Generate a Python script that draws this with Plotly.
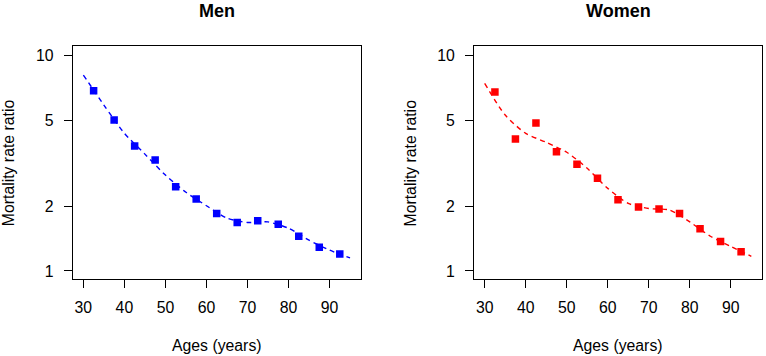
import plotly.graph_objects as go

ages = [32.5, 37.5, 42.5, 47.5, 52.5, 57.5, 62.5, 67.5, 72.5, 77.5, 82.5, 87.5, 92.5]
men_ratio = [6.88, 5.03, 3.81, 3.28, 2.46, 2.16, 1.85, 1.68, 1.71, 1.65, 1.45, 1.29, 1.20]
women_ratio = [6.78, 4.10, 4.87, 3.58, 3.13, 2.70, 2.14, 1.98, 1.94, 1.85, 1.57, 1.37, 1.23]

fit_ages = [30, 35, 40, 45, 50, 55, 60, 65, 70, 75, 80, 85, 90, 95]
men_fit = [8.13, 5.90, 4.36, 3.49, 2.79, 2.32, 2.01, 1.76, 1.68, 1.69, 1.58, 1.39, 1.25, 1.15]
women_fit = [7.44, 5.30, 4.36, 3.96, 3.56, 3.00, 2.42, 2.06, 1.95, 1.92, 1.69, 1.45, 1.30, 1.17]

x_ticks = [30, 40, 50, 60, 70, 80, 90]
y_ticks = [1, 2, 5, 10]
y_tick_labels = ["1", "2", "5", "10"]
titles = ["Men", "Women"]
x_title = "Ages (years)"
y_title = "Mortality rate ratio"

FONT = "Liberation Sans, Arial, sans-serif"
W, H = 766, 356
FS = 15.8

fig = go.Figure()

panels = [
    dict(series=men_ratio, fit=men_fit, color="#0000FF", xa="x", ya="y",
         box=(72.7, 360.7)),
    dict(series=women_ratio, fit=women_fit, color="#FF0000", xa="x2", ya="y2",
         box=(474.0, 762.0)),
]
top, bottom = 45.7, 279.3

for i, p in enumerate(panels):
    fig.add_trace(go.Scatter(
        x=fit_ages, y=p["fit"], mode="lines", xaxis=p["xa"], yaxis=p["ya"],
        line=dict(color=p["color"], width=1.4, dash="5px,4px", shape="spline", smoothing=0.7),
        showlegend=False, hoverinfo="skip"))
    fig.add_trace(go.Scatter(
        x=ages, y=p["series"], mode="markers", xaxis=p["xa"], yaxis=p["ya"],
        marker=dict(symbol="square", size=7.5, color=p["color"], line=dict(width=0)),
        showlegend=False))

    x0, x1 = p["box"]
    suffix = "" if i == 0 else str(i + 1)
    xdom = [x0 / W, x1 / W]
    ydom = [(H - bottom) / H, (H - top) / H]
    common = dict(showline=True, mirror=True, linecolor="black", linewidth=1,
                  ticks="outside", ticklen=8, tickcolor="black", tickwidth=1,
                  showgrid=False, zeroline=False, automargin=False,
                  tickfont=dict(family=FONT, size=FS, color="black"))
    fig.layout["xaxis" + suffix] = dict(
        domain=xdom, range=[27.4, 97.6], tickvals=x_ticks, anchor="y" + suffix,
        ticklabelstandoff=6, **common)
    fig.layout["yaxis" + suffix] = dict(
        domain=ydom, type="log", range=[-0.0386, 1.0465], tickvals=y_ticks,
        ticktext=y_tick_labels, anchor="x" + suffix, ticklabelstandoff=7, **common)

    cx = (x0 + x1) / 2
    fig.add_annotation(text="<b>" + titles[i] + "</b>", x=cx / W, y=1 - 11 / H,
                       xref="paper", yref="paper", showarrow=False,
                       xanchor="center", yanchor="middle",
                       font=dict(family=FONT, size=18, color="black"))
    fig.add_annotation(text=x_title, x=cx / W, y=1 - 345 / H,
                       xref="paper", yref="paper", showarrow=False,
                       xanchor="center", yanchor="middle",
                       font=dict(family=FONT, size=FS, color="black"))
    fig.add_annotation(text=y_title, x=(x0 - 63.5) / W, y=1 - 163 / H,
                       xref="paper", yref="paper", showarrow=False, textangle=-90,
                       xanchor="center", yanchor="middle",
                       font=dict(family=FONT, size=FS, color="black"))

fig.update_layout(width=W, height=H, margin=dict(l=0, r=0, t=0, b=0),
                  plot_bgcolor="white", paper_bgcolor="white")

fig.write_html("out.html", config={"displayModeBar": False},
               post_script="document.body.style.margin='0px';document.body.style.overflow='hidden';")
